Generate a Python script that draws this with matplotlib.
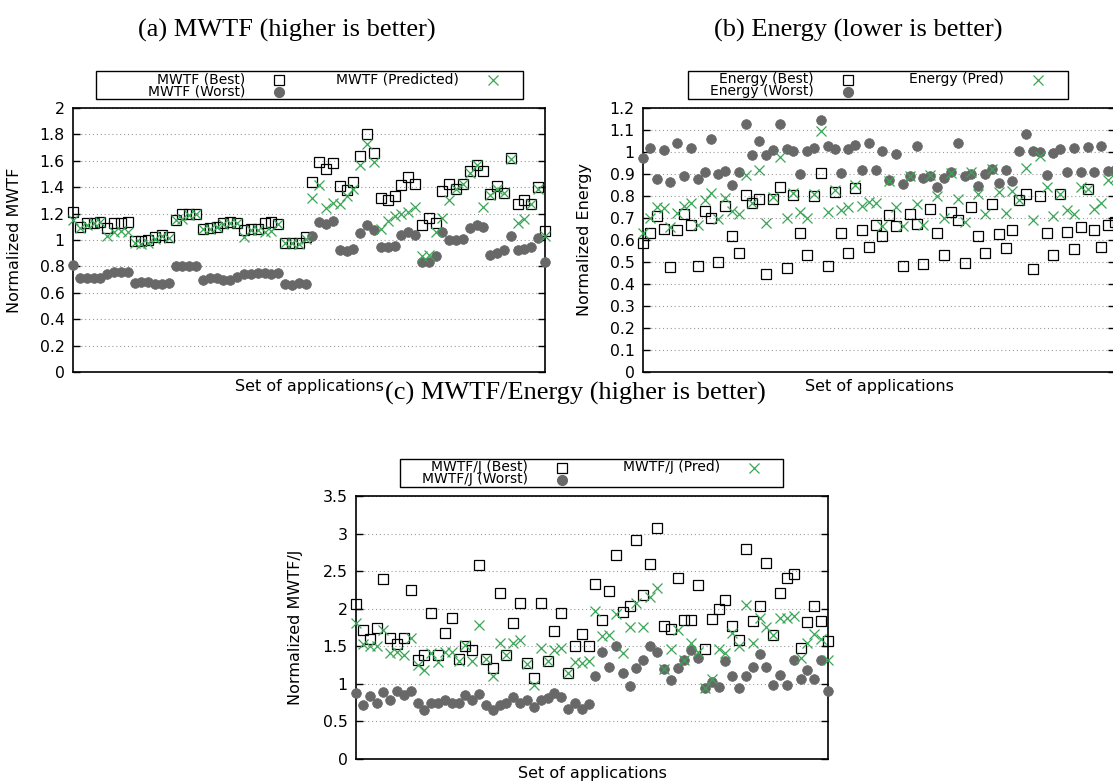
"""Three gnuplot-style scatter panels: MWTF, Energy, MWTF/Energy (best / worst / predicted)."""
import matplotlib
matplotlib.use('Agg')
import matplotlib.pyplot as plt
from matplotlib.patches import Rectangle
from matplotlib.ticker import MultipleLocator, FuncFormatter
import numpy as np

W, H = 1113, 782

# ---- data (70 application sets per panel) ----
mwtf_best = [1.215, 1.096, 1.127, 1.13, 1.14, 1.09, 1.127, 1.13, 1.137, 0.99,
             0.99, 1.0, 1.025, 1.04, 1.025, 1.15, 1.2, 1.195, 1.2, 1.086,
             1.09, 1.096, 1.127, 1.14, 1.127, 1.076, 1.08, 1.08, 1.127, 1.134,
             1.12, 0.98, 0.98, 0.98, 1.02, 1.44, 1.59, 1.54, 1.58, 1.41,
             1.38, 1.44, 1.64, 1.805, 1.66, 1.32, 1.30, 1.33, 1.42, 1.476,
             1.425, 1.11, 1.17, 1.127, 1.37, 1.425, 1.387, 1.425, 1.52, 1.565,
             1.52, 1.347, 1.41, 1.354, 1.625, 1.27, 1.30, 1.273, 1.40, 1.07]
mwtf_pred = [1.15, 1.09, 1.11, 1.13, 1.14, 1.03, 1.06, 1.07, 1.06, 0.975,
             0.97, 0.98, 1.01, 1.03, 1.015, 1.15, 1.16, 1.19, 1.2, 1.08,
             1.08, 1.096, 1.12, 1.13, 1.127, 1.02, 1.076, 1.076, 1.06, 1.07,
             1.12, 0.975, 0.975, 0.97, 1.01, 1.32, 1.42, 1.245, 1.28, 1.27,
             1.33, 1.39, 1.57, 1.727, 1.59, 1.08, 1.147, 1.18, 1.2, 1.215,
             1.25, 0.88, 0.886, 1.063, 1.17, 1.30, 1.387, 1.425, 1.51, 1.565,
             1.25, 1.34, 1.39, 1.354, 1.615, 1.13, 1.157, 1.273, 1.39, 1.03]
mwtf_worst = [0.81, 0.71, 0.71, 0.71, 0.71, 0.745, 0.755, 0.755, 0.755, 0.675,
              0.68, 0.68, 0.67, 0.665, 0.675, 0.80, 0.805, 0.805, 0.80, 0.70,
              0.71, 0.71, 0.70, 0.70, 0.72, 0.74, 0.745, 0.75, 0.75, 0.745,
              0.75, 0.67, 0.66, 0.675, 0.665, 1.03, 1.14, 1.12, 1.145, 0.925,
              0.915, 0.93, 1.056, 1.11, 1.076, 0.95, 0.95, 0.957, 1.04, 1.063,
              1.04, 0.835, 0.835, 0.88, 1.063, 1.0, 1.0, 1.01, 1.094, 1.114,
              1.096, 0.89, 0.90, 0.924, 1.03, 0.924, 0.93, 0.95, 1.018, 0.83]

energy_best = [0.586, 0.63, 0.71, 0.652, 0.476, 0.647, 0.717, 0.667, 0.48, 0.733,
               0.698, 0.5, 0.754, 0.62, 0.542, 0.804, 0.77, 0.785, 0.446, 0.786,
               0.84, 0.472, 0.804, 0.63, 0.534, 0.80, 0.904, 0.48, 0.82, 0.633,
               0.542, 0.835, 0.645, 0.57, 0.667, 0.617, 0.713, 0.662, 0.484, 0.717,
               0.675, 0.492, 0.742, 0.63, 0.534, 0.728, 0.69, 0.496, 0.75, 0.62,
               0.542, 0.762, 0.626, 0.563, 0.647, 0.78, 0.81, 0.469, 0.80, 0.632,
               0.533, 0.81, 0.637, 0.56, 0.66, 0.83, 0.645, 0.568, 0.667, 0.68]
energy_pred = [0.634, 0.70, 0.75, 0.745, 0.66, 0.724, 0.754, 0.766, 0.667, 0.78,
               0.815, 0.695, 0.79, 0.73, 0.717, 0.896, 0.77, 0.916, 0.678, 0.794,
               0.977, 0.70, 0.812, 0.728, 0.70, 0.81, 1.095, 0.728, 0.827, 0.736,
               0.75, 0.85, 0.754, 0.774, 0.77, 0.663, 0.869, 0.75, 0.663, 0.889,
               0.762, 0.67, 0.895, 0.80, 0.698, 0.904, 0.785, 0.68, 0.911, 0.807,
               0.72, 0.924, 0.82, 0.724, 0.824, 0.78, 0.927, 0.693, 0.98, 0.84,
               0.71, 0.81, 0.736, 0.717, 0.843, 0.83, 0.743, 0.766, 0.873, 0.88]
energy_worst = [0.973, 1.02, 0.878, 1.008, 0.865, 1.04, 0.89, 1.02, 0.878, 0.908,
                1.06, 0.90, 0.914, 0.85, 0.907, 1.128, 0.988, 1.05, 0.988, 1.01,
                1.128, 1.014, 1.003, 0.90, 1.003, 1.02, 1.145, 1.026, 1.014, 0.904,
                1.014, 1.034, 0.92, 1.04, 0.92, 1.003, 0.873, 0.992, 0.855, 0.889,
                1.029, 0.88, 0.889, 0.84, 0.884, 0.907, 1.04, 0.89, 0.9, 0.846,
                0.9, 0.922, 0.86, 0.92, 0.866, 1.003, 1.08, 1.003, 1.0, 0.896,
                0.995, 1.015, 0.911, 1.018, 0.911, 1.023, 0.911, 1.026, 0.914, 0.92]

mpj_best = [2.065, 1.72, 1.595, 1.74, 2.40, 1.61, 1.53, 1.61, 2.25, 1.32,
            1.38, 1.94, 1.38, 1.68, 1.88, 1.33, 1.51, 1.45, 2.58, 1.335,
            1.21, 2.21, 1.39, 1.81, 2.07, 1.28, 1.08, 2.08, 1.31, 1.70,
            1.94, 1.14, 1.50, 1.665, 1.51, 2.325, 1.85, 2.23, 2.71, 1.95,
            2.04, 2.91, 2.18, 2.60, 3.08, 1.77, 1.73, 2.41, 1.85, 1.85,
            2.32, 1.46, 1.865, 1.99, 2.12, 1.77, 1.586, 2.80, 1.84, 2.04,
            2.61, 1.65, 2.21, 2.415, 2.46, 1.475, 1.82, 2.03, 1.84, 1.57]
mpj_pred = [1.81, 1.53, 1.51, 1.51, 1.72, 1.41, 1.42, 1.39, 1.61, 1.25,
            1.19, 1.41, 1.285, 1.42, 1.43, 1.30, 1.52, 1.30, 1.78, 1.335,
            1.10, 1.54, 1.39, 1.54, 1.59, 1.26, 0.99, 1.475, 1.30, 1.45,
            1.475, 1.14, 1.285, 1.275, 1.31, 1.975, 1.64, 1.65, 1.93, 1.41,
            1.76, 2.07, 1.76, 2.15, 2.27, 1.195, 1.46, 1.72, 1.32, 1.54,
            1.43, 0.945, 1.07, 1.46, 1.41, 1.675, 1.50, 2.05, 1.54, 1.87,
            1.76, 1.65, 1.88, 1.88, 1.905, 1.34, 1.55, 1.67, 1.595, 1.32]
mpj_worst = [0.877, 0.72, 0.84, 0.75, 0.89, 0.79, 0.91, 0.855, 0.91, 0.745,
             0.656, 0.75, 0.75, 0.79, 0.75, 0.745, 0.855, 0.79, 0.864, 0.72,
             0.656, 0.72, 0.75, 0.82, 0.745, 0.79, 0.687, 0.79, 0.81, 0.877,
             0.82, 0.67, 0.745, 0.665, 0.735, 1.11, 1.43, 1.22, 1.50, 1.15,
             0.975, 1.21, 1.32, 1.51, 1.43, 1.195, 1.055, 1.21, 1.32, 1.45,
             1.34, 0.945, 1.02, 0.957, 1.31, 1.11, 0.95, 1.11, 1.22, 1.395,
             1.22, 0.98, 1.12, 0.98, 1.32, 1.07, 1.18, 1.07, 1.32, 0.91]

GRAY = '#686868'
GREEN = '#3aa655'
TICK_FS = 11.3
SANS = 'DejaVu Sans'
SERIF = 'Liberation Serif'


def px_rect(l, t, r, b):
    """pixel box (top-left origin) -> figure fraction rect"""
    return [l / W, 1 - b / H, (r - l) / W, (b - t) / H]


def draw_panel(ax, best, pred, worst, ymax, step, ylabel, ylab_x):
    x = np.arange(len(best))
    ax.plot(x, best, ls='none', marker='s', ms=7.2, mfc='none', mec='black', mew=0.9,
            clip_on=False, zorder=3)
    ax.plot(x, worst, ls='none', marker='o', ms=7.0, mfc=GRAY, mec=GRAY, mew=0.5,
            clip_on=False, zorder=3)
    ax.plot(x, pred, ls='none', marker='x', ms=7.4, mec=GREEN, mew=0.9,
            clip_on=False, zorder=4)
    ax.set_xlim(0, len(best) - 1)
    ax.set_ylim(0, ymax)
    ax.set_xticks([])
    ax.yaxis.set_major_locator(MultipleLocator(step))
    ax.yaxis.set_major_formatter(FuncFormatter(lambda v, p: '%g' % round(v, 2)))
    ax.tick_params(axis='y', direction='in', length=5, width=1.0, right=True,
                   labelsize=TICK_FS, pad=6)
    ax.grid(axis='y', color='#9a9a9a', ls=(0, (1, 2.5)), lw=0.8)
    for s in ax.spines.values():
        s.set_linewidth(1.2)
    ax.set_ylabel(ylabel, fontsize=11.5, family=SANS)
    ax.yaxis.set_label_coords(ylab_x, 0.5)
    ax.set_xlabel('Set of applications', fontsize=11.5, family=SANS)
    ax.xaxis.set_label_coords(0.5, -0.028)


fig = plt.figure(figsize=(W / 100, H / 100), dpi=100)

ax_a = fig.add_axes(px_rect(73, 108, 545, 372))
draw_panel(ax_a, mwtf_best, mwtf_pred, mwtf_worst, 2.0, 0.2, 'Normalized MWTF', -0.108)

ax_b = fig.add_axes(px_rect(643, 108, 1115, 372))
draw_panel(ax_b, energy_best, energy_pred, energy_worst, 1.2, 0.1, 'Normalized Energy', -0.108)

ax_c = fig.add_axes(px_rect(356, 496, 828, 759))
draw_panel(ax_c, mpj_best, mpj_pred, mpj_worst, 3.5, 0.5, 'Normalized MWTF/J', -0.112)

# overlay in pixel coordinates for captions and keys
ov = fig.add_axes([0, 0, 1, 1], zorder=-1)
ov.set_xlim(0, W)
ov.set_ylim(H, 0)
ov.axis('off')

cap = dict(family=SERIF, fontsize=19, ha='center', va='center')
ov.text(287, 30, '(a) MWTF (higher is better)', **cap)
ov.text(858, 30, '(b) Energy (lower is better)', **cap)
ov.text(575, 393, '(c) MWTF/Energy (higher is better)', **cap)


def draw_key(l, t, r, b, c1_txt, c1_mk, c2_txt, c2_mk, labels):
    ov.add_patch(Rectangle((l, t), r - l, b - t, fill=False, ec='black', lw=1.0))
    row1, row2 = t + 8.5, t + 20.5
    kw = dict(fontsize=10, family=SANS, ha='right', va='center')
    ov.text(c1_txt, row1, labels[0], **kw)
    ov.plot([c1_mk], [row1], marker='s', ms=7.2, mfc='none', mec='black', mew=0.9)
    ov.text(c1_txt, row2, labels[1], **kw)
    ov.plot([c1_mk], [row2], marker='o', ms=7.0, mfc=GRAY, mec=GRAY)
    ov.text(c2_txt, row1, labels[2], **kw)
    ov.plot([c2_mk], [row1], marker='x', ms=7.4, mec=GREEN, mew=0.9)


draw_key(95.5, 71, 522.5, 99, 245, 279, 459, 493,
         ['MWTF (Best)', 'MWTF (Worst)', 'MWTF (Predicted)'])
draw_key(688, 71, 1068, 99, 814, 848, 1004, 1038,
         ['Energy (Best)', 'Energy (Worst)', 'Energy (Pred)'])
draw_key(400, 459, 783, 487, 528, 562, 720, 754,
         ['MWTF/J (Best)', 'MWTF/J (Worst)', 'MWTF/J (Pred)'])

fig.savefig('out.png', dpi=100, facecolor='white')
